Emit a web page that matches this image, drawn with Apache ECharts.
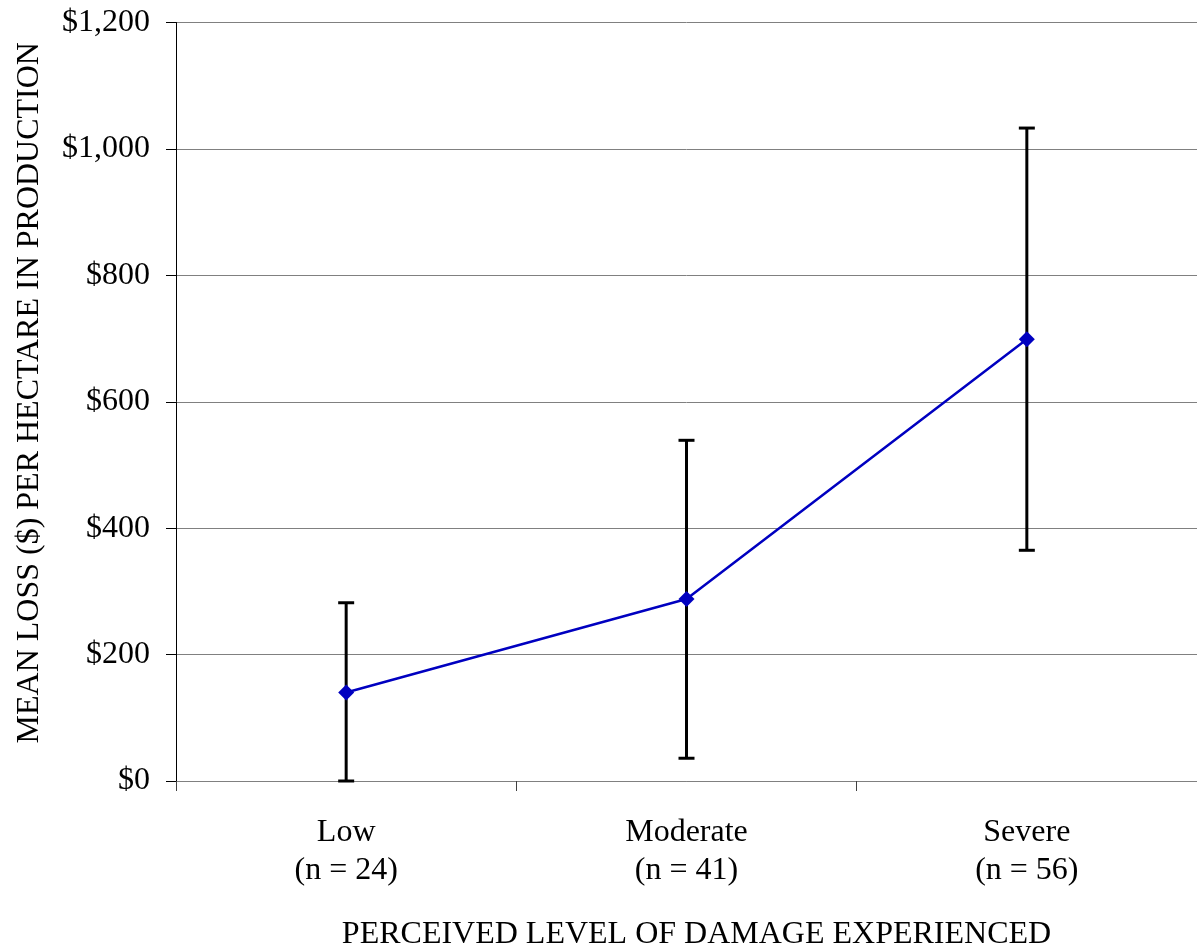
<!DOCTYPE html>
<html>
<head>
<meta charset="utf-8">
<script src="https://cdn.jsdelivr.net/npm/echarts@6/dist/echarts.min.js"></script>
<style>
html,body{margin:0;padding:0;background:#fff;}
#chart{width:1197px;height:947px;}
</style>
</head>
<body>
<div id="chart"></div>
<script>
const categories = ['Low\n(n = 24)', 'Moderate\n(n = 41)', 'Severe\n(n = 56)'];
const meanLoss = [140, 288, 699];
const errLow = [0, 36, 365];
const errHigh = [282, 539, 1033];
const yTicks = [0, 200, 400, 600, 800, 1000, 1200];

const FONT = '"Liberation Serif", "Times New Roman", serif';
const chart = echarts.init(document.getElementById('chart'), null, {renderer: 'canvas'});

const errData = categories.map((c, i) => [i, errLow[i], errHigh[i]]);

chart.setOption({
  animation: false,
  backgroundColor: '#fff',
  grid: {left: 176, right: 0, top: 22.5, bottom: 166, containLabel: false, outerBoundsMode: 'none'},
  xAxis: {
    type: 'category',
    data: categories,
    boundaryGap: true,
    axisLine: {show: true, lineStyle: {color: '#808080', width: 1}},
    axisTick: {show: true, length: 10, lineStyle: {color: '#404040', width: 1}},
    axisLabel: {fontFamily: FONT, fontSize: 32, color: '#000', lineHeight: 38, margin: 33},
    splitLine: {show: false},
    name: 'PERCEIVED LEVEL OF DAMAGE EXPERIENCED',
    nameLocation: 'middle',
    nameGap: 154,
    nameTextStyle: {fontFamily: FONT, fontSize: 32, color: '#000', verticalAlign: 'middle', padding: [0, 0, 0, 20]}
  },
  yAxis: {
    type: 'value',
    min: yTicks[0],
    max: yTicks[yTicks.length - 1],
    interval: 200,
    axisLine: {show: true, lineStyle: {color: '#000', width: 1}},
    axisTick: {show: true, length: 10, lineStyle: {color: '#000', width: 1}},
    axisLabel: {
      fontFamily: FONT, fontSize: 32, color: '#000', margin: 26,
      formatter: v => '$' + v.toLocaleString('en-US')
    },
    splitLine: {show: true, lineStyle: {color: '#808080', width: 1}},
    name: 'MEAN LOSS ($) PER HECTARE IN PRODUCTION',
    nameLocation: 'middle',
    nameRotate: 90,
    nameGap: 146,
    nameTextStyle: {fontFamily: FONT, fontSize: 32, color: '#000', verticalAlign: 'middle', padding: [0, 0, 0, 18]}
  },
  series: [
    {
      type: 'custom',
      data: errData,
      z: 3,
      renderItem: function (params, api) {
        const x = api.value(0);
        const lo = api.coord([x, api.value(1)]);
        const hi = api.coord([x, api.value(2)]);
        const hw = 8;
        const style = {stroke: '#000', lineWidth: 3, fill: null};
        return {
          type: 'group',
          children: [
            {type: 'line', shape: {x1: lo[0], y1: lo[1], x2: hi[0], y2: hi[1]}, style: style},
            {type: 'line', shape: {x1: hi[0] - hw, y1: hi[1], x2: hi[0] + hw, y2: hi[1]}, style: style},
            {type: 'line', shape: {x1: lo[0] - hw, y1: lo[1], x2: lo[0] + hw, y2: lo[1]}, style: style}
          ]
        };
      }
    },
    {
      type: 'line',
      data: meanLoss,
      z: 5,
      symbol: 'diamond',
      symbolSize: 16,
      lineStyle: {color: '#0000C0', width: 2.5},
      itemStyle: {color: '#0000C0'}
    }
  ]
});
</script>
</body>
</html>
